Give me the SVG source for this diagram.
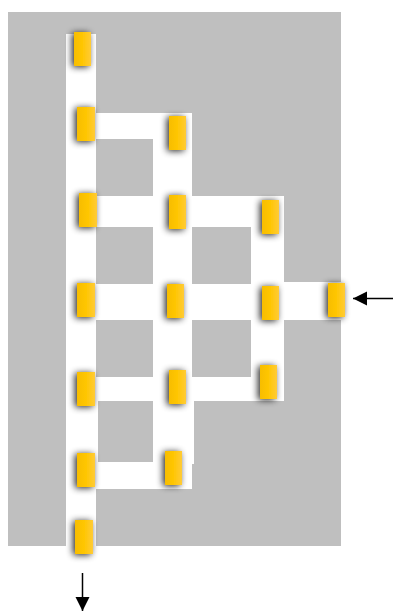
<svg xmlns="http://www.w3.org/2000/svg" width="393" height="611" viewBox="0 0 393 611">
<style>
.n{fill:url(#g);filter:url(#s)}
.c{fill:#fff;shape-rendering:crispEdges}
.a{stroke:#000;stroke-width:1.5;fill:none}
</style>
<defs>
<linearGradient id="g" x1="0" y1="0" x2="1" y2="0">
<stop offset="0" stop-color="#f7bd00"/>
<stop offset="0.5" stop-color="#ffc602"/>
<stop offset="1" stop-color="#ffcb37"/>
</linearGradient>
<filter id="s" x="-80%" y="-40%" width="240%" height="180%">
<feGaussianBlur in="SourceAlpha" stdDeviation="3.5"/>
<feOffset dx="-2.5" dy="0.5" result="b"/>
<feComponentTransfer in="b" result="c"><feFuncA type="linear" slope="0.85"/></feComponentTransfer>
<feMerge><feMergeNode in="c"/><feMergeNode in="SourceGraphic"/></feMerge>
</filter>
<marker id="h" markerUnits="userSpaceOnUse" markerWidth="15" markerHeight="15" refX="14" refY="7.5" orient="auto">
<path d="M0 0.5L14 7.5L0 14.5Z" fill="#000"/>
</marker>
</defs>
<g id="background">
<rect x="8" y="12" width="333" height="534" fill="#bfbfbf" shape-rendering="crispEdges"/>
<rect class="c" x="66" y="34" width="30" height="512"/>
<rect class="c" x="96" y="113" width="96" height="26"/>
<rect class="c" x="153" y="139" width="39" height="323"/>
<rect class="c" x="192" y="401" width="2" height="63"/>
<rect class="c" x="96" y="196" width="188" height="31"/>
<rect class="c" x="251" y="227" width="33" height="174"/>
<rect class="c" x="96" y="284" width="155" height="36"/>
<rect class="c" x="284" y="282" width="57" height="38"/>
<rect class="c" x="96" y="377" width="155" height="24"/>
<rect class="c" x="96" y="401" width="2" height="61"/>
<rect class="c" x="96" y="462" width="96" height="27"/>
</g>
<g id="connectors">
<line class="a" x1="393" y1="298.5" x2="353" y2="298.5" marker-end="url(#h)"/>
<line class="a" x1="82.5" y1="573" x2="82.5" y2="611" marker-end="url(#h)"/>
</g>
<g id="node-1"><rect class="n" x="74" y="32" width="17" height="34"/></g>
<g id="node-2"><rect class="n" x="77" y="107" width="18" height="34"/></g>
<g id="node-3"><rect class="n" x="169" y="116" width="17" height="34"/></g>
<g id="node-4"><rect class="n" x="79" y="193" width="18" height="34"/></g>
<g id="node-5"><rect class="n" x="169" y="195" width="17" height="34"/></g>
<g id="node-6"><rect class="n" x="262" y="200" width="17" height="34"/></g>
<g id="node-7"><rect class="n" x="77" y="283" width="18" height="34"/></g>
<g id="node-8"><rect class="n" x="167" y="284" width="17" height="34"/></g>
<g id="node-9"><rect class="n" x="262" y="286" width="17" height="34"/></g>
<g id="node-10"><rect class="n" x="328" y="283" width="17" height="34"/></g>
<g id="node-11"><rect class="n" x="77" y="372" width="18" height="34"/></g>
<g id="node-12"><rect class="n" x="169" y="370" width="17" height="34"/></g>
<g id="node-13"><rect class="n" x="260" y="365" width="17" height="34"/></g>
<g id="node-14"><rect class="n" x="77" y="453" width="18" height="34"/></g>
<g id="node-15"><rect class="n" x="165" y="451" width="17" height="34"/></g>
<g id="node-16"><rect class="n" x="75" y="520" width="18" height="34"/></g>
</svg>
